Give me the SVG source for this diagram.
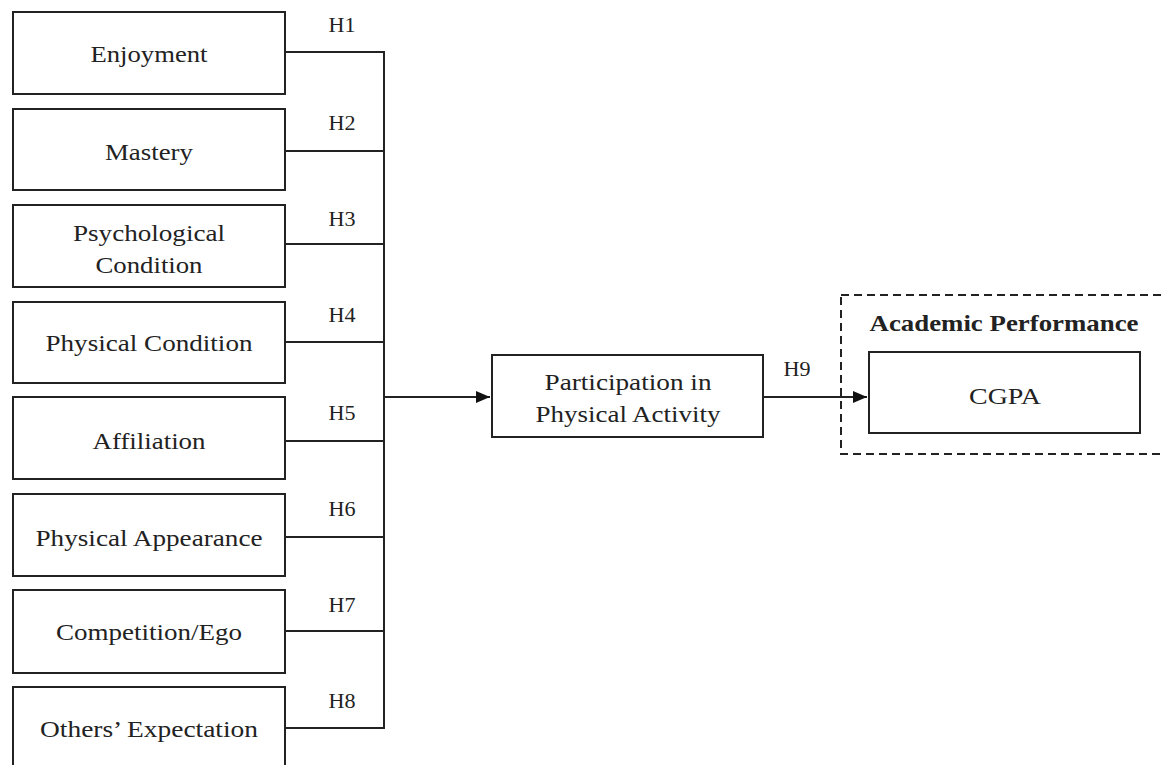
<svg xmlns="http://www.w3.org/2000/svg" width="1161" height="765" viewBox="0 0 1161 765">
<style>
.box{fill:#fff;stroke:#222;stroke-width:2}
text{font-family:'Liberation Serif','Times New Roman','DejaVu Serif',serif;fill:#222;text-anchor:middle}
.t{font-size:24px}
.h{font-size:20px}
.b{font-size:23px;font-weight:bold}
.c{fill:none;stroke:#222;stroke-width:2}
</style>
<defs>
<marker id="arr" viewBox="0 0 14 12" refX="14" refY="6" markerWidth="14" markerHeight="12" markerUnits="userSpaceOnUse" orient="auto">
<path d="M0,0 L14,6 L0,12 Z" fill="#111"/>
</marker>
</defs>
<rect width="1161" height="765" fill="#fff"/>
<g id="n1"><rect class="box" x="13" y="12" width="272" height="82"/><text class="t" x="149" y="62" textLength="117" lengthAdjust="spacingAndGlyphs">Enjoyment</text></g>
<g id="n2"><rect class="box" x="13" y="109" width="272" height="81"/><text class="t" x="149" y="160" textLength="88" lengthAdjust="spacingAndGlyphs">Mastery</text></g>
<g id="n3"><rect class="box" x="13" y="205" width="272" height="82"/><text class="t" x="149" y="241" textLength="152" lengthAdjust="spacingAndGlyphs">Psychological</text><text class="t" x="149" y="273" textLength="107" lengthAdjust="spacingAndGlyphs">Condition</text></g>
<g id="n4"><rect class="box" x="13" y="302" width="272" height="81"/><text class="t" x="149" y="351" textLength="207" lengthAdjust="spacingAndGlyphs">Physical Condition</text></g>
<g id="n5"><rect class="box" x="13" y="397" width="272" height="82"/><text class="t" x="149" y="449" textLength="113" lengthAdjust="spacingAndGlyphs">Affiliation</text></g>
<g id="n6"><rect class="box" x="13" y="494" width="272" height="82"/><text class="t" x="149" y="546" textLength="227" lengthAdjust="spacingAndGlyphs">Physical Appearance</text></g>
<g id="n7"><rect class="box" x="13" y="590" width="272" height="83"/><text class="t" x="149" y="640" textLength="186" lengthAdjust="spacingAndGlyphs">Competition/Ego</text></g>
<g id="n8"><rect class="box" x="13" y="687" width="272" height="90"/><text class="t" x="149" y="737" textLength="218" lengthAdjust="spacingAndGlyphs">Others’ Expectation</text></g>
<g id="n9"><rect class="box" x="492" y="355" width="271" height="82"/><text class="t" x="628" y="390" textLength="167" lengthAdjust="spacingAndGlyphs">Participation in</text><text class="t" x="628" y="422" textLength="185" lengthAdjust="spacingAndGlyphs">Physical Activity</text></g>
<g id="group"><rect x="841" y="295" width="340" height="159" fill="none" stroke="#222" stroke-width="2" stroke-dasharray="8,5"/><text class="b" x="1004" y="331" textLength="269" lengthAdjust="spacingAndGlyphs">Academic Performance</text></g>
<g id="n10"><rect class="box" x="869" y="352" width="271" height="81"/><text class="t" x="1005" y="404" textLength="72" lengthAdjust="spacingAndGlyphs">CGPA</text></g>
<g id="connectors">
<path class="c" d="M285,52 H384 M285,151 H384 M285,244 H384 M285,342 H384 M285,441 H384 M285,537 H384 M285,631 H384 M285,728 H384 M384,51 V729"/>
<path class="c" d="M384,397 H490" marker-end="url(#arr)"/>
<path class="c" d="M763,397 H867" marker-end="url(#arr)"/>
<text class="h" x="342" y="32" textLength="27" lengthAdjust="spacingAndGlyphs">H1</text>
<text class="h" x="342" y="130" textLength="27" lengthAdjust="spacingAndGlyphs">H2</text>
<text class="h" x="342" y="226" textLength="27" lengthAdjust="spacingAndGlyphs">H3</text>
<text class="h" x="342" y="322" textLength="27" lengthAdjust="spacingAndGlyphs">H4</text>
<text class="h" x="342" y="420" textLength="27" lengthAdjust="spacingAndGlyphs">H5</text>
<text class="h" x="342" y="516" textLength="27" lengthAdjust="spacingAndGlyphs">H6</text>
<text class="h" x="342" y="612" textLength="27" lengthAdjust="spacingAndGlyphs">H7</text>
<text class="h" x="342" y="708" textLength="27" lengthAdjust="spacingAndGlyphs">H8</text>
<text class="h" x="797" y="376" textLength="27" lengthAdjust="spacingAndGlyphs">H9</text>
</g>
</svg>
